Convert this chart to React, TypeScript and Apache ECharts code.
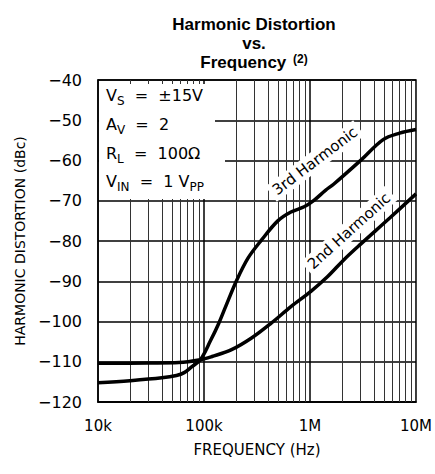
import React, { useEffect, useRef } from "react";
import * as echarts from "echarts";

// Frequency (Hz) / distortion (dBc)
const thirdFreq = [1e4, 2e4, 4e4, 5.5e4, 6.5e4, 7.7e4, 9.25e4, 1.15e5, 1.37e5, 1.6e5, 2.03e5, 2.61e5, 3.48e5, 4.97e5, 6.61e5, 8.8e5, 1.09e6, 1.4e6, 1.67e6, 2.97e6, 4.9e6, 7.0e6, 1e7];
const thirdDb = [-115.2, -114.7, -114.0, -113.4, -112.7, -111.2, -109.5, -104.8, -100.6, -96.3, -89.8, -84.2, -79.8, -75.0, -72.8, -71.5, -69.9, -67.4, -65.9, -60.1, -54.8, -53.2, -52.3];
const secondFreq = [1e4, 3e4, 5.8e4, 9.25e4, 1.19e5, 1.82e5, 2.81e5, 4.31e5, 6.61e5, 1.02e6, 1.46e6, 2.08e6, 2.97e6, 5.65e6, 1e7];
const secondDb = [-110.4, -110.3, -110.2, -109.5, -108.7, -107.0, -104.1, -100.4, -96.3, -92.5, -88.9, -84.7, -80.9, -74.3, -68.3];

const xTickValues = [1e4, 1e5, 1e6, 1e7];
const xTickLabels = ["10k", "100k", "1M", "10M"];
const yMin = -120;
const yMax = -40;
const yStep = 10;
const gridMultipliers = [1, 2, 3, 4, 5, 6, 7, 8, 9];
const decades = [1e4, 1e5, 1e6];

const FONT = "DejaVu Sans";

export default function App() {
  const ref = useRef<HTMLDivElement>(null);
  useEffect(() => {
    if (!ref.current) return;
    const chart = echarts.init(ref.current, undefined, { renderer: "svg" });

    const vLines: any[] = [];
    decades.forEach((d) => {
      gridMultipliers.forEach((m) => {
        const v = d * m;
        if (v > 1e4 && v < 1e7) {
          vLines.push({
            xAxis: v,
            lineStyle: { color: m === 1 ? "#000" : "#333", width: m === 1 ? 1.5 : 1, type: "solid" },
          });
        }
      });
    });

    const sub = { fontFamily: FONT, fontSize: 12, padding: [11, 0, 0, 0] };

    const option: any = {
      animation: false,
      backgroundColor: "#fff",
      title: {
        text: "Harmonic Distortion\nvs.\nFrequency {sup|(2)}",
        left: 249,
        top: 10,
        textAlign: "center",
        textStyle: {
          fontFamily: "Liberation Sans",
          fontWeight: "bold",
          fontSize: 17,
          lineHeight: 19,
          color: "#000",
          rich: {
            sup: { fontFamily: "Liberation Sans", fontWeight: "bold", fontSize: 12, lineHeight: 19, padding: [0, 0, 8, 2], color: "#000" },
          },
        },
      },
      grid: {
        left: 98,
        right: 15,
        top: 80,
        bottom: 72,
        show: true,
        borderColor: "#000",
        borderWidth: 1.5,
        backgroundColor: "transparent",
      },
      xAxis: {
        type: "log",
        logBase: 10,
        min: 1e4,
        max: 1e7,
        name: "FREQUENCY (Hz)",
        nameLocation: "middle",
        nameGap: 40,
        nameTextStyle: { fontFamily: FONT, fontSize: 15, color: "#000" },
        axisLine: { show: true, lineStyle: { color: "#000", width: 1.5 } },
        axisTick: { show: false },
        splitLine: { show: false },
        axisLabel: {
          fontFamily: FONT,
          fontSize: 15,
          color: "#000",
          margin: 16,
          formatter: (v: number) => {
            const i = xTickValues.findIndex((t) => Math.abs(t - v) / t < 1e-6);
            return i >= 0 ? xTickLabels[i] : "";
          },
        },
      },
      yAxis: {
        type: "value",
        min: yMin,
        max: yMax,
        interval: yStep,
        name: "HARMONIC DISTORTION (dBc)",
        nameLocation: "middle",
        nameGap: 70,
        nameRotate: 90,
        nameTextStyle: { fontFamily: FONT, fontSize: 14, color: "#000" },
        axisLine: { show: true, lineStyle: { color: "#000", width: 1.5 } },
        axisTick: { show: false },
        splitLine: { show: true, lineStyle: { color: "#000", width: 1.5 } },
        axisLabel: {
          fontFamily: FONT,
          fontSize: 16,
          color: "#000",
          margin: 16,
          formatter: (v: number) => (v < 0 ? "\u2212" + Math.abs(v) : String(v)),
        },
      },
      series: [
        {
          name: "grid",
          type: "line",
          data: [],
          markLine: {
            silent: true,
            symbol: "none",
            label: { show: false },
            data: vLines,
          },
          z: 1,
        },
        {
          name: "3rd Harmonic",
          type: "line",
          data: thirdFreq.map((f, i) => [f, thirdDb[i]]),
          smooth: 0.35,
          showSymbol: false,
          lineStyle: { color: "#000", width: 3.5 },
          z: 5,
        },
        {
          name: "2nd Harmonic",
          type: "line",
          data: secondFreq.map((f, i) => [f, secondDb[i]]),
          smooth: 0.35,
          showSymbol: false,
          lineStyle: { color: "#000", width: 3.5 },
          z: 5,
        },
      ],
      graphic: {
        z: 10,
        elements: [
          { type: "rect", z: 10, shape: { x: 99, y: 84, width: 116, height: 115 }, style: { fill: "#fff" } },
          { type: "rect", z: 10, shape: { x: 99, y: 145, width: 126, height: 25 }, style: { fill: "#fff" } },
          {
            type: "text", z: 11, x: 106, y: 95,
            style: {
              text: "V{s|S}  =  \u00b115V",
              fontFamily: FONT, fontSize: 16, fill: "#000", verticalAlign: "middle",
              rich: { s: sub },
            },
          },
          {
            type: "text", z: 11, x: 106, y: 124,
            style: {
              text: "A{s|V}  =  2",
              fontFamily: FONT, fontSize: 16, fill: "#000", verticalAlign: "middle",
              rich: { s: sub },
            },
          },
          {
            type: "text", z: 11, x: 106, y: 153,
            style: {
              text: "R{s|L}  =  100\u03a9",
              fontFamily: FONT, fontSize: 16, fill: "#000", verticalAlign: "middle",
              rich: { s: sub },
            },
          },
          {
            type: "text", z: 11, x: 106, y: 181,
            style: {
              text: "V{s|IN}  =  1 V{s|PP}",
              fontFamily: FONT, fontSize: 16, fill: "#000", verticalAlign: "middle",
              rich: { s: sub },
            },
          },
          {
            type: "text", z: 11, x: 315, y: 161, rotation: (37 * Math.PI) / 180,
            style: {
              text: "3rd Harmonic", fontFamily: FONT, fontSize: 15, fill: "#000",
              align: "center", verticalAlign: "middle", backgroundColor: "#fff", padding: [2, 4],
            },
          },
          {
            type: "text", z: 11, x: 349, y: 231, rotation: (42 * Math.PI) / 180,
            style: {
              text: "2nd Harmonic", fontFamily: FONT, fontSize: 15, fill: "#000",
              align: "center", verticalAlign: "middle", backgroundColor: "#fff", padding: [2, 4],
            },
          },
        ],
      },
    };
    chart.setOption(option);
    return () => chart.dispose();
  }, []);
  return <div ref={ref} style={{ width: 435, height: 474, position: "absolute", left: 0, top: 0 }} />;
}
